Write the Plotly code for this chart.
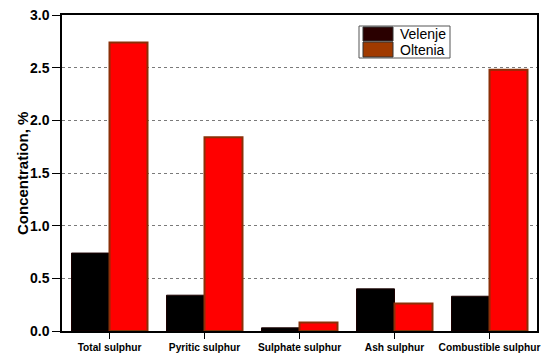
import plotly.graph_objects as go

categories = ["Total sulphur", "Pyritic sulphur", "Sulphate sulphur", "Ash sulphur", "Combustible sulphur"]
velenje = [0.74, 0.34, 0.03, 0.40, 0.33]
oltenia = [2.74, 1.84, 0.08, 0.26, 2.48]
series_names = ["Velenje", "Oltenia"]
y_ticks = [0.0, 0.5, 1.0, 1.5, 2.0, 2.5, 3.0]

fig = go.Figure()
fig.add_trace(go.Bar(x=categories, y=velenje, name=series_names[0],
                     marker=dict(color="#000000", line=dict(color="#1a0000", width=1)),
                     showlegend=False))
fig.add_trace(go.Bar(x=categories, y=oltenia, name=series_names[1],
                     marker=dict(color="#ff0000", line=dict(color="#8b3008", width=2)),
                     showlegend=False))

font_family = "Liberation Sans, Arial, sans-serif"

fig.update_layout(
    width=550, height=360,
    margin=dict(l=62, r=13, t=15, b=29),
    barmode="group", bargap=0.2, bargroupgap=0,
    plot_bgcolor="white", paper_bgcolor="white",
    font=dict(family=font_family, color="black"),
    xaxis=dict(
        type="category", range=[-0.5, 4.5], automargin=False,
        showline=True, linecolor="black", linewidth=1.5, mirror=True,
        ticks="outside", ticklen=6, tickcolor="black", tickwidth=1,
        tickfont=dict(family=font_family, size=10.2, color="black", weight="bold"),
        showgrid=False,
    ),
    yaxis=dict(
        range=[0, 3.0], tickvals=y_ticks, ticktext=[f"{v:.1f}" for v in y_ticks],
        automargin=False,
        showline=True, linecolor="black", linewidth=1.5, mirror=True,
        ticks="outside", ticklen=8, tickcolor="black", tickwidth=1,
        tickfont=dict(family=font_family, size=14, color="black", weight="bold"),
        showgrid=True, gridcolor="#7a7a7a", gridwidth=1, griddash="3px,3px",
        zeroline=False,
    ),
)

def px_x(p):
    return (p - 62) / 475

def px_y(p):
    return (331 - p) / 316

shapes = [
    dict(type="rect", xref="paper", yref="paper", x0=px_x(359), x1=px_x(450), y0=px_y(58), y1=px_y(26),
         line=dict(color="#555555", width=1), fillcolor="white", layer="above"),
    dict(type="rect", xref="paper", yref="paper", x0=px_x(363), x1=px_x(393), y0=px_y(41), y1=px_y(27),
         line=dict(color="#333333", width=1), fillcolor="#2a0000", layer="above"),
    dict(type="rect", xref="paper", yref="paper", x0=px_x(363), x1=px_x(393), y0=px_y(57), y1=px_y(42),
         line=dict(color="#333333", width=1), fillcolor="#a03a00", layer="above"),
]
fig.update_layout(shapes=shapes)
fig.add_annotation(xref="paper", yref="paper", x=px_x(398), y=px_y(34), text=series_names[0],
                   showarrow=False, xanchor="left", yanchor="middle",
                   font=dict(family=font_family, size=14, color="black"))
fig.add_annotation(xref="paper", yref="paper", x=px_x(398), y=px_y(49.5), text=series_names[1],
                   showarrow=False, xanchor="left", yanchor="middle",
                   font=dict(family=font_family, size=14, color="black"))
fig.add_annotation(xref="paper", yref="paper", x=px_x(22), y=px_y(174), text="Concentration, %",
                   textangle=-90, showarrow=False, xanchor="center", yanchor="middle",
                   font=dict(family=font_family, size=15, color="black", weight="bold"))

fig.write_html("out.html", config={"displayModeBar": False},
               post_script="document.body.style.margin='0';")
